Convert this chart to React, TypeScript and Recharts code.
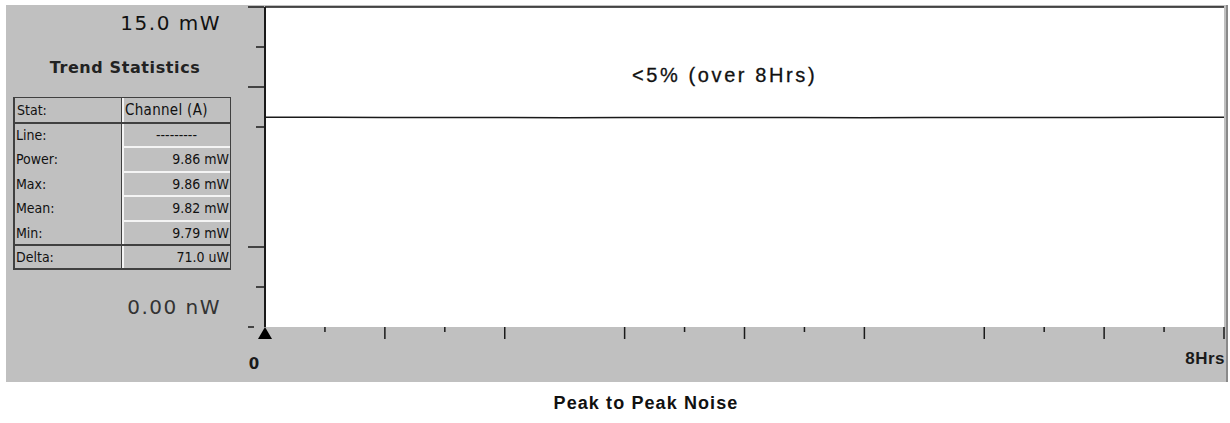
import React from 'react'
import { LineChart, Line, XAxis, YAxis, CartesianGrid, ReferenceLine } from 'recharts'

// readings over the 8 hour run (mW)
const hours = [0, 0.5, 1, 1.5, 2, 2.5, 3, 3.5, 4, 4.5, 5, 5.5, 6, 6.5, 7, 7.5, 8]
const power = [9.83, 9.83, 9.82, 9.82, 9.82, 9.81, 9.82, 9.82, 9.82, 9.82, 9.81, 9.82, 9.82, 9.82, 9.82, 9.83, 9.83]

const xTicks = [0, 0.5, 1, 1.5, 2, 3, 3.5, 4, 4.5, 5, 6, 6.5, 7, 7.5, 8]
const yTicks = [0, 1.875, 3.75, 9.375, 11.25, 13.125, 15]
const yMajor = [3.75, 11.25, 15]

const statNames = ['Line:', 'Power:', 'Max:', 'Mean:', 'Min:', 'Delta:']
const statValues = ['---------', '9.86 mW', '9.86 mW', '9.82 mW', '9.79 mW', '71.0 uW']

const data = hours.map((h, i) => ({ h, p: power[i] }))

const GRAY = '#c0c0c0'
const INK = '#1a1a1a'
const SMALL = '"DejaVu Sans Condensed", "DejaVu Sans", sans-serif'
const ARIAL = '"Liberation Sans", Arial, sans-serif'

function YTick(props: any) {
  const { x, y, payload } = props
  const v = payload.value
  if (v === 0) return <line x1={x - 17} y1={y} x2={x - 11} y2={y} stroke={INK} strokeWidth={1.5} />
  const len = yMajor.includes(v) ? 17 : 9
  return <line x1={x - len} y1={y} x2={x - 1} y2={y} stroke={INK} strokeWidth={1.5} />
}

function XTick(props: any) {
  const { x, y, payload } = props
  const v = payload.value
  if (v === 0) {
    return (
      <g>
        <polygon points={`${x - 7},${y + 12} ${x},${y} ${x + 7},${y + 12}`} fill="#000" />
        <text x={x - 11} y={y + 42} fontSize={15} fontWeight={700} fill={INK} fontFamily="DejaVu Sans" textAnchor="middle">
          0
        </text>
      </g>
    )
  }
  const major = Number.isInteger(v)
  return (
    <g>
      <line x1={x} y1={y} x2={x} y2={y + (major ? 12 : 5)} stroke={INK} strokeWidth={1.5} />
      {v === 8 && (
        <text x={x + 1} y={y + 37} fontSize={17} fontWeight={700} letterSpacing={0.5} fill={INK} fontFamily={ARIAL} textAnchor="end">
          8Hrs
        </text>
      )}
    </g>
  )
}

export default function App() {
  const rows = [97, 123, 147, 172, 196, 221, 245, 270]
  return (
    <div style={{ position: 'fixed', left: 0, top: 0, width: 1230, height: 423, background: '#fff' }}>
      {/* instrument panel */}
      <div
        style={{
          position: 'absolute',
          left: 6,
          top: 5,
          width: 1220,
          height: 377,
          background: GRAY,
          borderRight: '2px solid #8a8a8a',
        }}
      />

      <div style={{ position: 'absolute', left: 0, top: 0 }}>
        <LineChart width={1230} height={423} data={data} margin={{ top: 7, right: 6, left: 235, bottom: 46 }}>
          <CartesianGrid fill="#fff" horizontal={false} vertical={false} />
          <XAxis
            dataKey="h"
            type="number"
            domain={[0, 8]}
            ticks={xTicks}
            interval={0}
            height={50}
            axisLine={false}
            tickLine={false}
            tickSize={0}
            tickMargin={0}
            tick={<XTick />}
          />
          <YAxis
            type="number"
            domain={[0, 15]}
            ticks={yTicks}
            interval={0}
            width={30}
            axisLine={{ stroke: INK, strokeWidth: 2 }}
            tickLine={false}
            tickSize={0}
            tickMargin={0}
            tick={<YTick />}
          />
          <ReferenceLine y={15} stroke={INK} strokeWidth={1.5} />
          <Line
            type="linear"
            dataKey="p"
            stroke={INK}
            strokeWidth={1.5}
            dot={false}
            isAnimationActive={false}
          />
        </LineChart>
      </div>

      {/* axis extent labels */}
      <div style={{ position: 'absolute', right: 1230 - 221, top: 11, fontFamily: 'DejaVu Sans', fontSize: 20, color: '#111', letterSpacing: 1.5 }}>
        15.0 mW
      </div>
      <div style={{ position: 'absolute', right: 1230 - 221, top: 295, fontFamily: 'DejaVu Sans', fontSize: 20, color: '#333', letterSpacing: 1.5 }}>
        0.00 nW
      </div>
      <div style={{ position: 'absolute', left: 13, width: 224, textAlign: 'center', top: 58, fontFamily: 'DejaVu Sans', fontWeight: 700, fontSize: 16, color: '#222', letterSpacing: 0.6 }}>
        Trend Statistics
      </div>

      {/* statistics table */}
      <div style={{ position: 'absolute', left: 13, top: rows[0], width: 218, height: rows[7] - rows[0], borderLeft: '2px solid #404040', borderBottom: '2px solid #404040', borderTop: '1px solid #404040', borderRight: '1px solid #404040', boxSizing: 'border-box' }} />
      <div style={{ position: 'absolute', left: 121, top: rows[0], width: 1, height: rows[7] - rows[0], background: '#404040' }} />
      <div style={{ position: 'absolute', left: 122, top: rows[0] + 1, width: 2, height: rows[7] - rows[0] - 3, background: '#f4f4f4' }} />
      <div style={{ position: 'absolute', left: 13, top: rows[1] - 1, width: 218, height: 2, background: '#404040' }} />
      <div style={{ position: 'absolute', left: 13, top: rows[6] - 1, width: 218, height: 2, background: '#404040' }} />
      {[2, 3, 4, 5].map((r) => (
        <div key={r} style={{ position: 'absolute', left: 124, top: rows[r] - 1, width: 106, height: 2, background: '#f4f4f4' }} />
      ))}
      <div style={{ position: 'absolute', left: 17, top: rows[0], height: rows[1] - rows[0], lineHeight: `${rows[1] - rows[0]}px`, fontFamily: SMALL, fontSize: 14, color: '#111' }}>
        Stat:
      </div>
      <div style={{ position: 'absolute', left: 125, top: rows[0], height: rows[1] - rows[0], lineHeight: `${rows[1] - rows[0]}px`, fontFamily: SMALL, fontSize: 15, color: '#111', letterSpacing: 0.3 }}>
        Channel (A)
      </div>
      {statNames.map((name, i) => (
        <React.Fragment key={name}>
          <div style={{ position: 'absolute', left: 16, top: rows[i + 1], height: rows[i + 2] - rows[i + 1], lineHeight: `${rows[i + 2] - rows[i + 1]}px`, fontFamily: SMALL, fontSize: 14, color: '#111' }}>
            {name}
          </div>
          <div
            style={{
              position: 'absolute',
              left: 124,
              width: 105,
              top: rows[i + 1],
              height: rows[i + 2] - rows[i + 1],
              lineHeight: `${rows[i + 2] - rows[i + 1]}px`,
              textAlign: i === 0 ? 'center' : 'right',
              fontFamily: SMALL,
              fontSize: 14,
              color: '#111',
            }}
          >
            {statValues[i]}
          </div>
        </React.Fragment>
      ))}

      {/* annotation + caption */}
      <div style={{ position: 'absolute', left: 632, top: 64, fontFamily: ARIAL, fontSize: 20, color: '#111', letterSpacing: 2.6, fontWeight: 500, WebkitTextStroke: '0.3px #111', whiteSpace: 'nowrap' }}>
        &lt;5% (over 8Hrs)
      </div>
      <div style={{ position: 'absolute', left: 536, width: 220, textAlign: 'center', top: 393, fontFamily: ARIAL, fontWeight: 700, fontSize: 18, color: '#111', letterSpacing: 1.1, whiteSpace: 'nowrap' }}>
        Peak to Peak Noise
      </div>
    </div>
  )
}
